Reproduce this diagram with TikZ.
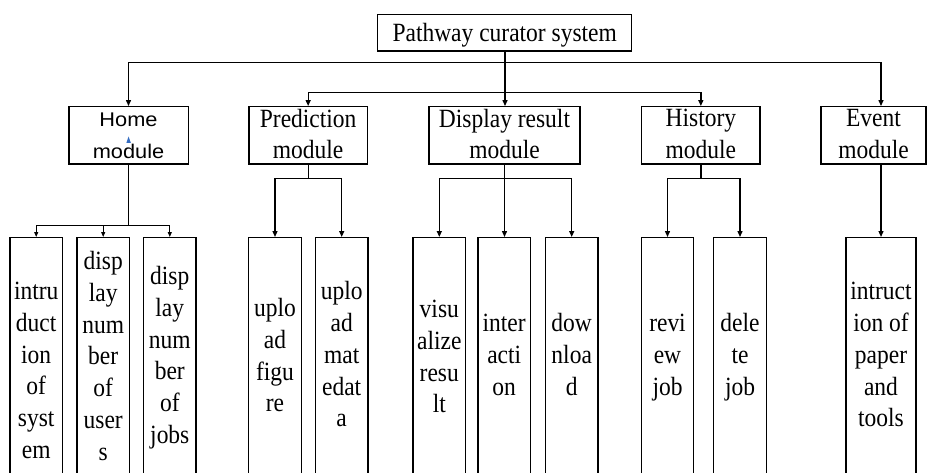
\documentclass[tikz,border=0pt]{standalone}
\usepackage{fontspec}
\setmainfont{Liberation Serif}
\newfontfamily\boxfont[FakeStretch=0.893]{Liberation Serif}
\newfontfamily\homefont[FakeStretch=1.1]{Liberation Sans}
\usetikzlibrary{arrows.meta}

\begin{document}
\begin{tikzpicture}[x=1pt,y=-1pt,
  frame/.style={draw, line width=1.3pt, inner sep=0pt, minimum height=57.3pt},
  leaf/.style={draw, line width=1.3pt, inner sep=0pt, anchor=north,
               minimum height=250pt, minimum width=52.5pt},
  lbl/.style={font=\boxfont\fontsize{26.3}{31.7}\selectfont, align=center,
              anchor=base, inner sep=0pt},
  wire/.style={line width=1.3pt},
  link/.style={line width=1.3pt, -{Triangle[length=6pt,width=5pt]}},
  thinlink/.style={line width=1pt, -{Triangle[length=5pt,width=4pt]}}]

\useasboundingbox (0,0) rectangle (928,473);
\clip (0,0) rectangle (928,473);

% root
\node[draw, line width=1.3pt, inner sep=0pt, minimum width=254pt, minimum height=36.3pt]
  (root) at (504.7,32.85) {};
\node[lbl] (roott) at (504.7,41.7) {Pathway curator system};

% modules (text anchored on the baseline of the last line)
\node[frame, minimum width=119.3pt] (home) at (128.65,135.35) {};
\node[frame, minimum width=118.3pt] (pred) at (308.15,135.35) {};
\node[frame, minimum width=151pt]   (disp) at (504.5,135.35) {};
\node[frame, minimum width=118.3pt] (hist) at (700.85,135.35) {};
\node[frame, minimum width=105pt]   (evt)  at (873.5,135.35) {};

\node[lbl, font=\homefont\fontsize{19.8}{31.6}\selectfont] (homet) at (128.5,158.3) {Home\\module};
\node[lbl] (predt) at (308.15,158.9) {Prediction\\module};
\node[lbl] (dispt) at (504.5,158.9) {Display result\\module};
\node[lbl] (histt) at (700.85,158.3) {History\\module};
\node[lbl] (evtt)  at (873.5,158.3) {Event\\module};

% small blue caret mark inside the home box
\fill[blue!60!cyan!70!black, opacity=0.8] (128.6,136.5) -- (130.8,142.8) -- (126.4,142.8) -- cycle;

% leaves
\node[leaf] (h1) at (36.2,237) {};
\node[leaf] (h2) at (103.2,237) {};
\node[leaf] (h3) at (169.8,237) {};
\node[leaf] (p1) at (275,237) {};
\node[leaf] (p2) at (341.7,237) {};
\node[leaf] (d1) at (439.3,237) {};
\node[leaf] (d2) at (504.2,237) {};
\node[leaf] (d3) at (571.7,237) {};
\node[leaf] (r1) at (667.5,237) {};
\node[leaf] (r2) at (740,237) {};
\node[leaf, minimum width=70pt] (e1) at (881,237) {};

\node[lbl] (h1t) at (36.2,458.3) {intru\\duct\\ion\\of\\syst\\em};
\node[lbl] (h2t) at (103.2,460) {disp\\lay\\num\\ber\\of\\user\\s};
\node[lbl] (h3t) at (169.8,443.3) {disp\\lay\\num\\ber\\of\\jobs};
\node[lbl] (p1t) at (275,411.7) {uplo\\ad\\figu\\re};
\node[lbl] (p2t) at (341.7,426.7) {uplo\\ad\\mat\\edat\\a};
\node[lbl] (d1t) at (439.3,412.7) {visu\\alize\\resu\\lt};
\node[lbl] (d2t) at (504.2,395) {inter\\acti\\on};
\node[lbl] (d3t) at (571.7,395) {dow\\nloa\\d};
\node[lbl] (r1t) at (667.5,395) {revi\\ew\\job};
\node[lbl] (r2t) at (740,395) {dele\\te\\job};
\node[lbl] (e1t) at (881,426.7) {intruct\\ion of\\paper\\and\\tools};

% junction points
\coordinate (j1) at (505,62.7);
\coordinate (j2) at (505,92.3);
\coordinate (jh) at (128.5,225.7);
\coordinate (jp) at (308.15,178.3);
\coordinate (jd) at (504.5,178.3);
\coordinate (jr) at (700.85,178.3);

% root to modules
\draw[wire] (root.south -| j1) -- (j2);
\draw[link] (j1) -| (home.north -| jh);
\draw[link] (j1) -| (evt.north -| e1);
\draw[link] (j2) -| (pred.north);
\draw[link] (j2) -- (disp.north -| j2);
\draw[link] (j2) -| (hist.north);

% home branch
\draw[line width=1pt] (home.south -| jh) -- (jh);
\draw[thinlink] (jh) -| (h1.north);
\draw[thinlink] (jh) -| (h2.north);
\draw[thinlink] (jh) -| (h3.north);

% prediction branch
\draw[wire] (pred.south) -- (jp);
\draw[link] (jp) -| (p1.north);
\draw[link] (jp) -| (p2.north);

% display branch
\draw[link] (disp.south) -- (d2.north -| disp.south);
\draw[link] (jd) -| (d1.north);
\draw[link] (jd) -| (d3.north);

% history branch
\draw[wire] (hist.south) -- (jr);
\draw[link] (jr) -| (r1.north);
\draw[link] (jr) -| (r2.north);

% event branch
\draw[link] (evt.south -| e1) -- (e1.north);
\end{tikzpicture}
\end{document}
